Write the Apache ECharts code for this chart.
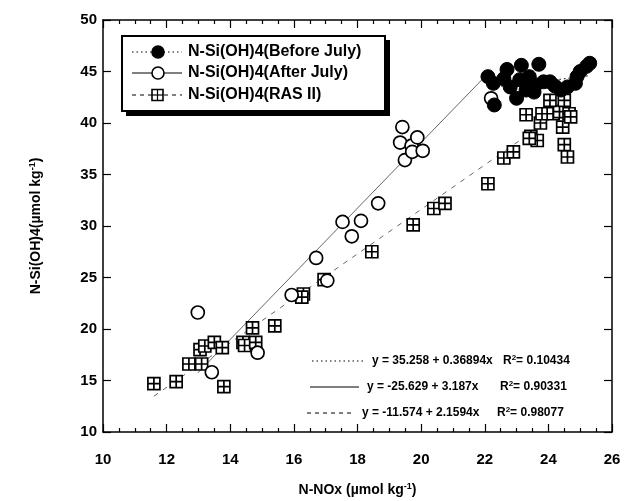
<!DOCTYPE html>
<html><head><meta charset="utf-8">
<script src="https://cdn.jsdelivr.net/npm/echarts@6/dist/echarts.min.js"></script>
<style>html,body{margin:0;padding:0;background:#fff}#c{width:632px;height:501px}</style>
</head><body><div id="c"></div>
<script>
// Before July (filled circles)
const beforeX = [22.1,22.3,22.27,22.6,22.7,23.0,22.8,23.1,23.15,23.3,23.4,23.6,23.7,23.85,24.05,24.4,24.2,24.6,24.85,24.9,25.0,25.2,25.3,23.55];
const beforeY = [44.5,41.75,43.85,44.3,45.2,42.4,43.5,44.2,45.6,43.2,44.5,43.7,45.7,44.0,44.0,43.2,43.6,43.5,43.85,44.5,45.0,45.5,45.8,43.0];
// After July (open circles)
const afterX = [12.98,13.42,14.86,15.93,16.7,17.05,17.53,17.82,18.11,18.65,19.34,19.41,19.49,19.7,19.72,19.88,20.05,22.2];
const afterY = [21.6,15.8,17.7,23.3,26.9,24.7,30.4,29.0,30.5,32.2,38.1,39.6,36.4,37.8,37.2,38.6,37.3,42.4];
// RAS II (crossed squares)
const rasX = [11.6,12.3,12.7,13.1,13.05,13.2,13.5,13.75,13.8,14.4,14.45,14.8,14.7,15.4,16.3,16.25,16.95,18.45,19.75,20.4,20.75,22.1,22.6,22.9,23.45,23.65,23.3,23.75,23.8,24.15,24.35,24.45,24.5,24.05,24.65,24.7,24.5,24.6,23.4];
const rasY = [14.7,14.9,16.6,16.6,18.0,18.35,18.7,18.2,14.4,18.7,18.4,18.7,20.1,20.3,23.4,23.1,24.8,27.5,30.1,31.7,32.2,34.1,36.6,37.2,38.7,38.3,40.8,40.0,40.9,40.9,41.1,39.6,42.2,42.2,40.9,40.6,37.9,36.7,38.5];
// Regression fits
const seriesNames = ['N-Si(OH)4(Before July)','N-Si(OH)4(After July)','N-Si(OH)4(RAS II)'];
const fitIntercept = [35.258,-25.629,-11.574];
const fitSlope = [0.36894,3.187,2.1594];
const fitInterceptText = ['35.258','-25.629','-11.574'];
const fitSlopeText = ['0.36894','3.187','2.1594'];
const fitR2Text = ['0.10434','0.90331','0.98077'];
// Axis ticks
const xTicks = [10,12,14,16,18,20,22,24,26];
const yTicks = [10,15,20,25,30,35,40,45,50];

const zip = (a,b)=>a.map((v,i)=>[v,b[i]]);
const fitLine = (xs,k)=>{const lo=Math.min(...xs),hi=Math.max(...xs);return [[lo,fitIntercept[k]+fitSlope[k]*lo],[hi,fitIntercept[k]+fitSlope[k]*hi]];};
const sqPath = 'path://M0,0L10,0L10,10L0,10Z M5,0L5,10 M0,5L10,5';
const FONT = '"Liberation Sans", Arial, sans-serif';

const chart = echarts.init(document.getElementById('c'));
const axisCommon = {
  axisLine:{show:true,onZero:false,lineStyle:{color:'#000',width:1.5}},
  splitLine:{show:false}
};
const legendRows = [52,73,95];
const dashes = [[1.5,3],null,[4,4]];
const eqRows = [361,387,413];
const graphic = [
  {type:'rect',shape:{x:126,y:40,width:264,height:76},style:{fill:'#000'},z:100},
  {type:'rect',shape:{x:122,y:36,width:263,height:75},style:{fill:'#fff',stroke:'#000',lineWidth:2},z:101}
];
legendRows.forEach((y,i)=>{
  graphic.push({type:'line',shape:{x1:132,y1:y,x2:182,y2:y},style:{stroke:'#000',lineWidth:1,lineDash:dashes[i]||null},z:102});
  if(i===2){
    graphic.push({type:'rect',shape:{x:152,y:y-5.5,width:11,height:11},style:{fill:'#fff',stroke:'#000',lineWidth:1.6},z:103});
    graphic.push({type:'line',shape:{x1:157.5,y1:y-5.5,x2:157.5,y2:y+5.5},style:{stroke:'#000',lineWidth:1.2},z:104});
    graphic.push({type:'line',shape:{x1:152,y1:y,x2:163,y2:y},style:{stroke:'#000',lineWidth:1.2},z:104});
  } else {
    graphic.push({type:'circle',shape:{cx:158,cy:y,r:6},style:{fill:i===0?'#000':'#fff',stroke:'#000',lineWidth:1.6},z:103});
  }
  graphic.push({type:'text',x:188,y:y,style:{text:seriesNames[i],font:'bold 16px '+FONT,fill:'#000',verticalAlign:'middle'},z:103});
});
eqRows.forEach((y,i)=>{
  graphic.push({type:'line',shape:{x1:[312,310,307][i],y1:y,x2:[366,359,355][i],y2:y},style:{stroke:'#000',lineWidth:1,lineDash:dashes[i]||null},z:50});
  const sign = fitSlopeText[i].startsWith('-')?' - ':' + ';
  graphic.push({type:'text',x:[372,367,362][i],y:y,style:{
    text:'{t|y = '+fitInterceptText[i]+sign+fitSlopeText[i]+'x}',
    rich:{t:{font:'bold 12px '+FONT,fill:'#000'}},verticalAlign:'middle'},z:50});
  graphic.push({type:'text',x:[503,500,497][i],y:y,style:{
    text:'{t|R}{s|2}{t|= '+fitR2Text[i]+'}',
    rich:{t:{font:'bold 12px '+FONT,fill:'#000'},s:{font:'bold 8px '+FONT,fill:'#000',verticalAlign:'top',padding:[0,0,6,0]}},verticalAlign:'middle'},z:50});
});

chart.setOption({
  animation:false,
  backgroundColor:'#fff',
  grid:{left:103,right:20,top:20,bottom:69,containLabel:false,outerBoundsMode:'none'},
  xAxis:[
    Object.assign({},axisCommon,{type:'value',min:10,max:26,interval:2,position:'bottom',
      name:'{a|N-NOx (µmol kg}{s|-1}{a|)}',nameLocation:'middle',nameGap:50,
      nameTextStyle:{rich:{a:{fontFamily:FONT,fontWeight:'bold',fontSize:14,color:'#000'},s:{fontFamily:FONT,fontWeight:'bold',fontSize:9,color:'#000',verticalAlign:'top',padding:[0,0,8,0]}}},
      axisTick:{show:true,inside:true,length:8,lineStyle:{color:'#000',width:1.2}},
      minorTick:{show:true,splitNumber:4,length:4,lineStyle:{color:'#000',width:1.2}},
      axisLabel:{fontFamily:FONT,fontWeight:'bold',fontSize:15,color:'#000',margin:20,
        formatter:v=>xTicks.includes(v)?String(v):''}}),
    Object.assign({},axisCommon,{type:'value',min:10,max:26,interval:2,position:'top',
      axisTick:{show:true,inside:true,length:8,lineStyle:{color:'#000',width:1.2}},
      minorTick:{show:true,splitNumber:4,length:4,lineStyle:{color:'#000',width:1.2}},
      axisLabel:{show:false}})
  ],
  yAxis:[
    Object.assign({},axisCommon,{type:'value',min:10,max:50,interval:5,position:'left',
      name:'{a|N-Si(OH)4(µmol kg}{s|-1}{a|)}',nameLocation:'middle',nameGap:58,nameRotate:90,
      nameTextStyle:{rich:{a:{fontFamily:FONT,fontWeight:'bold',fontSize:14,color:'#000'},s:{fontFamily:FONT,fontWeight:'bold',fontSize:9,color:'#000',verticalAlign:'top',padding:[0,0,8,0]}}},
      axisTick:{show:true,inside:true,length:8,lineStyle:{color:'#000',width:1.2}},
      axisLabel:{fontFamily:FONT,fontWeight:'bold',fontSize:15,color:'#000',margin:6,
        formatter:v=>yTicks.includes(v)?String(v):''}}),
    Object.assign({},axisCommon,{type:'value',min:10,max:50,interval:5,position:'right',
      axisTick:{show:true,inside:true,length:8,lineStyle:{color:'#000',width:1.2}},
      axisLabel:{show:false}})
  ],
  series:[
    {type:'line',data:fitLine(beforeX,0),symbol:'none',lineStyle:{color:'#000',width:1,type:[1.5,3]},z:1,silent:true},
    {type:'line',data:fitLine(afterX,1),symbol:'none',lineStyle:{color:'#666',width:1},z:1,silent:true},
    {type:'line',data:fitLine(rasX,2),symbol:'none',lineStyle:{color:'#666',width:1,type:[5,6]},z:1,silent:true},
    {name:seriesNames[2],type:'scatter',data:zip(rasX,rasY),symbol:sqPath,symbolSize:12,
      itemStyle:{color:'#fff',borderColor:'#000',borderWidth:1.7,opacity:1},z:3},
    {name:seriesNames[1],type:'scatter',data:zip(afterX,afterY),symbol:'circle',symbolSize:13,
      itemStyle:{color:'#fff',borderColor:'#000',borderWidth:1.7,opacity:1},z:4},
    {name:seriesNames[0],type:'scatter',data:zip(beforeX,beforeY),symbol:'circle',symbolSize:14,
      itemStyle:{color:'#000',borderColor:'#000',borderWidth:1,opacity:1},z:5}
  ],
  graphic:graphic
});
</script></body></html>
